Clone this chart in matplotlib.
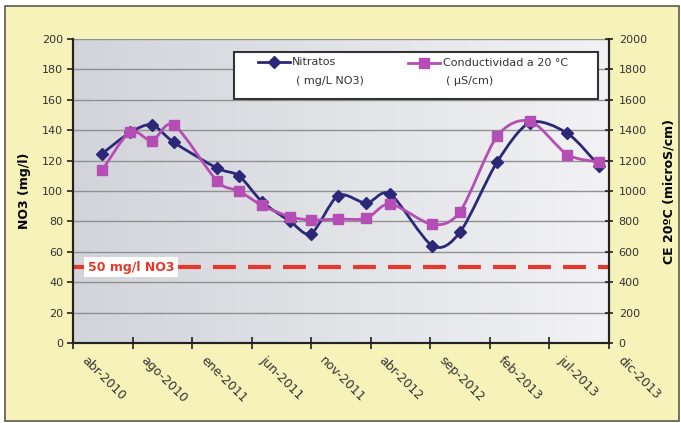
import numpy as np
import matplotlib
matplotlib.use("Agg")
import matplotlib.pyplot as plt
import matplotlib.dates as mdates
import matplotlib.transforms as mtransforms
from matplotlib.path import Path
from matplotlib.patches import PathPatch, Rectangle
from matplotlib.colors import LinearSegmentedColormap
from matplotlib.lines import Line2D

# datos
fechas = np.array(['2010-06-13', '2010-08-23', '2010-10-17', '2010-12-11', '2011-03-30',
                   '2011-05-24', '2011-07-21', '2011-09-30', '2011-11-22', '2012-01-29',
                   '2012-04-09', '2012-06-08', '2012-09-22', '2012-12-01', '2013-03-04',
                   '2013-05-26', '2013-08-28', '2013-11-16'], dtype='datetime64[D]')
nitratos = [124.5, 138.5, 143.5, 132, 115, 110, 93, 80, 72, 97,
            92, 98, 64, 73, 119, 145, 138, 116.5]
conductividad = [1135, 1390, 1330, 1435, 1065, 1000, 905, 830, 810, 815,
                 820, 915, 780, 865, 1360, 1460, 1240, 1190]
limite = 50
etiquetas_x = ['abr-2010', 'ago-2010', 'ene-2011', 'jun-2011', 'nov-2011',
               'abr-2012', 'sep-2012', 'feb-2013', 'jul-2013', 'dic-2013']
inicio = np.datetime64('2010-04-01')
paso_dias = 150

AZUL = '#2b2878'
ROSA = '#b44db4'
ROJO = '#e4392c'
TXT = '#333333'
plt.rcParams['font.family'] = ['DejaVu Sans']


def curva(x, y, k=7.0):
    # linea suavizada tipo Excel (bezier)
    x = np.asarray(x, float)
    y = np.asarray(y, float)
    n = len(x)
    verts = [(x[0], y[0])]
    codes = [Path.MOVETO]
    for i in range(n - 1):
        a = max(i - 1, 0)
        b = min(i + 2, n - 1)
        c1 = (x[i] + (x[i + 1] - x[a]) / k, y[i] + (y[i + 1] - y[a]) / k)
        c2 = (x[i + 1] - (x[b] - x[i]) / k, y[i + 1] - (y[b] - y[i]) / k)
        verts += [c1, c2, (x[i + 1], y[i + 1])]
        codes += [Path.CURVE4] * 3
    return Path(verts, codes)


fig = plt.figure(figsize=(6.81, 4.23), dpi=100, facecolor='white')
fig.add_artist(Rectangle((5 / 681, 2 / 423), 674 / 681, 415 / 423, transform=fig.transFigure,
                         facecolor='#f6f2b9', edgecolor='#5e5a45', lw=1.2, zorder=-5))

ax = fig.add_axes([73 / 681, 80 / 423, 536 / 681, 304 / 423])
ax2 = ax.twinx()

xs = mdates.date2num(fechas.astype('datetime64[s]').astype(object))
ticks = [inicio + np.timedelta64(paso_dias * k, 'D') for k in range(len(etiquetas_x))]
xt = mdates.date2num([t.astype('datetime64[s]').astype(object) for t in ticks])

# fondo degradado
cmap = LinearSegmentedColormap.from_list('fondo', ['#d2d4da', '#f2f2f4'])
ax.imshow(np.linspace(0, 1, 256).reshape(1, -1), cmap=cmap, aspect='auto',
          extent=[0, 1, 0, 1], transform=ax.transAxes, zorder=0)

ax.set_xlim(xt[0], xt[-1])
ax.set_ylim(0, 200)
ax2.set_ylim(0, 2000)
ax.set_yticks(np.arange(0, 201, 20))
ax2.set_yticks(np.arange(0, 2001, 200))
ax.set_xticks(xt)
ax.set_xticklabels([])
# etiquetas del eje x giradas, algo desplazadas como en el original
desplaza = mtransforms.ScaledTranslation(15 / 100, -11 / 100, fig.dpi_scale_trans)
for xv, lab in zip(xt, etiquetas_x):
    ax.text(xv, 0, lab, transform=ax.get_xaxis_transform() + desplaza, rotation=-45,
            rotation_mode='anchor', ha='left', va='top', fontsize=9, color=TXT, clip_on=False)
ax.grid(axis='y', color='#909090', lw=1.0, zorder=0.5)
ax.set_axisbelow(True)

for a in (ax, ax2):
    a.spines['top'].set_visible(False)
    for s in ('left', 'bottom', 'right'):
        a.spines[s].set_color('#222222')
        a.spines[s].set_linewidth(1.5)
ax.tick_params(axis='y', direction='out', length=4, width=1.2, color='#222222',
               labelsize=8, labelcolor=TXT, pad=3)
ax.tick_params(axis='x', direction='inout', length=8, width=1.2, color='#222222')
ax2.tick_params(axis='y', direction='inout', length=6, width=1.2, color='#222222',
                labelsize=8, labelcolor=TXT, pad=4)

ax.set_ylabel('NO3 (mg/l)', fontsize=9, fontweight='bold', color='black')
ax.yaxis.set_label_coords(-0.078, 0.5)
ax2.set_ylabel('CE 20ºC (microS/cm)', fontsize=9, fontweight='bold', color='black', rotation=90)
ax2.yaxis.set_label_coords(1.10, 0.5)

# limite 50 mg/l
ln = ax.axhline(limite, color=ROJO, lw=3, zorder=2)
ln.set_dashes((5.5, 2.9))
ax.text((131 - 73) / 536, limite, '50 mg/l NO3', transform=ax.get_yaxis_transform(),
        ha='center', va='center', color=ROJO, fontsize=9, fontweight='bold', zorder=3,
        bbox=dict(facecolor='white', edgecolor='none', pad=2.5))

# series
ax.add_patch(PathPatch(curva(xs, nitratos), fill=False, edgecolor=AZUL, lw=2, zorder=3))
ax.plot(xs, nitratos, ls='none', marker='D', ms=6.5, color=AZUL, zorder=4)
ax2.add_patch(PathPatch(curva(xs, conductividad), fill=False, edgecolor=ROSA, lw=2, zorder=3))
ax2.plot(xs, conductividad, ls='none', marker='s', ms=7.5, color=ROSA, zorder=4)


# leyenda
def fx(px):
    return (px - 73) / 536


def fy(py):
    return (343 - py) / 304


ax2.add_patch(Rectangle((fx(234), fy(99)), fx(598) - fx(234), fy(52) - fy(99),
                        transform=ax2.transAxes, facecolor='white', edgecolor='#333333',
                        lw=1.5, zorder=5))
ax2.add_line(Line2D([fx(258), fx(290)], [fy(62), fy(62)], transform=ax2.transAxes,
                    color=AZUL, lw=2, zorder=6))
ax2.add_line(Line2D([fx(274)], [fy(62)], transform=ax2.transAxes, ls='none',
                    marker='D', ms=6, color=AZUL, zorder=7))
ax2.add_line(Line2D([fx(408), fx(440)], [fy(63), fy(63)], transform=ax2.transAxes,
                    color=ROSA, lw=2, zorder=6))
ax2.add_line(Line2D([fx(424)], [fy(63)], transform=ax2.transAxes, ls='none',
                    marker='s', ms=7, color=ROSA, zorder=7))
kw = dict(transform=ax2.transAxes, fontsize=8, color=TXT, va='center', ha='left', zorder=7)
ax2.text(fx(292), fy(62), 'Nitratos', **kw)
ax2.text(fx(296), fy(81), '( mg/L NO3)', **kw)
ax2.text(fx(443), fy(63), 'Conductividad a 20 °C', **kw)
ax2.text(fx(446), fy(81), '( µS/cm)', **kw)

fig.savefig('out.png', dpi=100)
